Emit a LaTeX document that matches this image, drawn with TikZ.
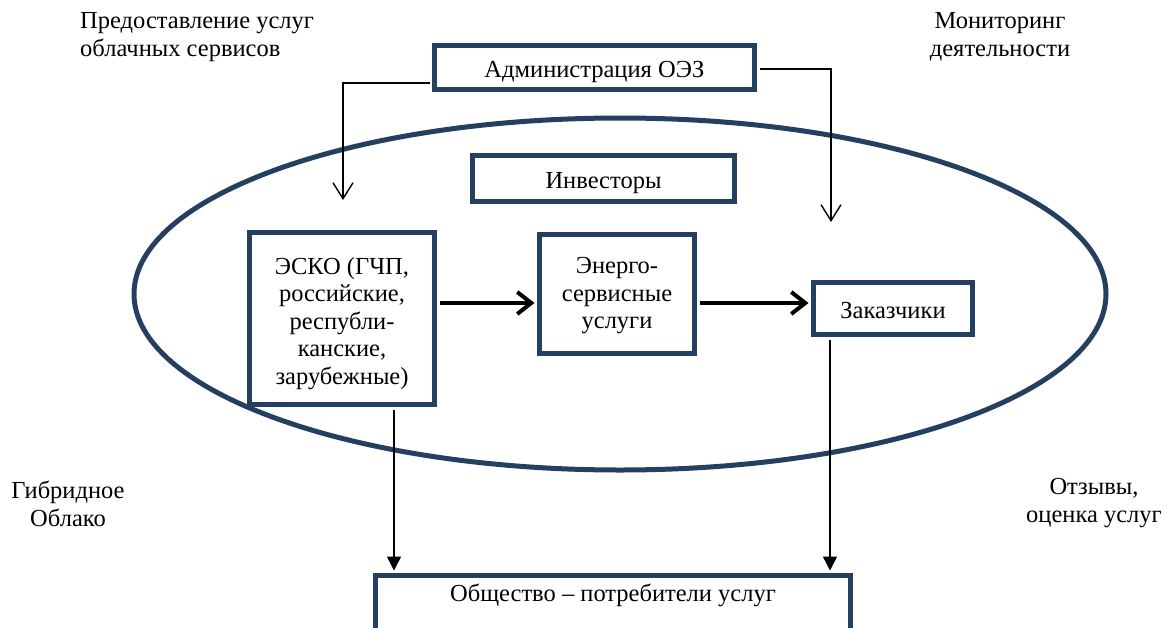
\documentclass[tikz,border=0pt]{standalone}
\usepackage{fontspec}
\setmainfont{Liberation Serif}
\usetikzlibrary{arrows.meta}
\definecolor{navy}{HTML}{243F60}
\begin{document}
\begin{tikzpicture}[x=1pt,y=-1pt,
  box/.style={draw=navy, line width=5pt, fill=white, inner sep=0pt},
  txt/.style={font=\fontsize{24.5}{27.5}\selectfont, align=center, inner sep=0pt},
  thinarrow/.style={line width=1.4pt, shorten <=2.5pt, shorten >=2.5pt},
  barb/.style={-{Straight Barb[length=16pt,width=20pt]}},
  tri/.style={-{Triangle[length=14pt,width=14pt]}},
  thickarrow/.style={line width=4pt, shorten <=2.5pt, shorten >=2.5pt, -{Straight Barb[length=14pt,width=22pt]}}]
\clip (0,0) rectangle (1167,627);
\fill[white] (0,0) rectangle (1167,627);

% ellipse (hybrid cloud)
\draw[navy, line width=5pt] (620,294) ellipse [x radius=486, y radius=176];

% boxes
\node[box, minimum width=320pt, minimum height=44pt,
  label={[txt,name=admint,yshift=-4.5pt]center:Администрация ОЭЗ}] (admin) at (594.5,67.5) {};
\node[box, minimum width=262pt, minimum height=46pt,
  label={[txt,name=invt,yshift=-4.5pt]center:Инвесторы}] (inv) at (603.5,178.5) {};
\node[box, minimum width=185pt, minimum height=172pt,
  label={[txt,name=eskot,yshift=-5pt]center:ЭСКО (ГЧП,\\российские,\\республи-\\канские,\\зарубежные)}] (esko) at (342,318.5) {};
\node[box, minimum width=155pt, minimum height=119pt,
  label={[txt,name=energot,yshift=-2pt]center:Энерго-\\сервисные\\услуги}] (energo) at (617,294) {};
\node[box, minimum width=159pt, minimum height=52pt,
  label={[txt,name=zakt,yshift=-1.5pt]center:Заказчики}] (zak) at (893,308.5) {};
\node[box, minimum width=475pt, minimum height=70pt,
  label={[txt,name=bott,yshift=15.5pt]center:Общество – потребители услуг}] (bottom) at (613,610.5) {};

% free texts
\node[txt, align=left, anchor=west] (cloud) at (80,37) {Предоставление услуг\\облачных сервисов};
\node[txt] (monitor) at (1000,37) {Мониторинг\\деятельности};
\node[txt] (hybrid) at (68,504) {Гибридное\\Облако};
\node[txt] (feedback) at (1094,503) {Отзывы,\\оценка услуг};

% connectors
\coordinate (lturn) at (343,83);
\coordinate (ltip) at (343,200);
\draw[thinarrow, shorten >=0pt, barb] (admin.west |- lturn) -- (lturn) -- (ltip);
\coordinate (rturn) at (831,69);
\coordinate (rtip) at (831,222);
\draw[thinarrow, shorten >=0pt, barb] (admin.east |- rturn) -- (rturn) -- (rtip);

\coordinate (hy) at (0,303);
\draw[thickarrow] (esko.east |- hy) -- (energo.west |- hy);
\draw[thickarrow] (energo.east |- hy) -- (zak.west |- hy);

\coordinate (dl) at (394,0);
\coordinate (dr) at (830,0);
\draw[thinarrow, tri] (esko.south -| dl) -- (bottom.north -| dl);
\draw[thinarrow, tri] (zak.south -| dr) -- (bottom.north -| dr);
\end{tikzpicture}
\end{document}
